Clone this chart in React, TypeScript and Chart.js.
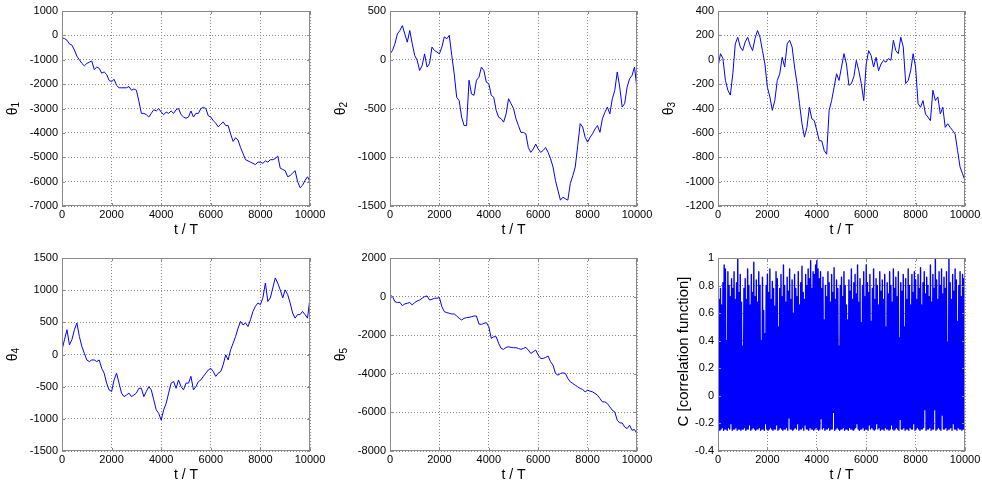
import React, { useEffect, useRef } from "react";
import { Chart, registerables } from "chart.js";

Chart.register(...registerables);

// ---------------- data ----------------
const T_STEP = 100; // sample spacing of the theta series (t / T)
const X_TICKS_STEP = 2000;

const theta1 = [
  -100, -130, -200, -350, -400, -600, -850, -1000, -1150, -1250,
  -1150, -1100, -1050, -1400, -1300, -1350, -1550, -1500, -1600, -1850,
  -1900, -1800, -2050, -2150, -2150, -2150, -2150, -2100, -2250, -2200,
  -2250, -2700, -3200, -3200, -3250, -3350, -3200, -3050, -3100, -3000,
  -3150, -3250, -3150, -3200, -3100, -3200, -3050, -3000, -3250, -3350,
  -3400, -3350, -3100, -3350, -3200, -3200, -3000, -2950, -3000, -3300,
  -3350, -3500, -3600, -3750, -3650, -3550, -3700, -3700, -4050, -4350,
  -4200, -4300, -4600, -4850, -5100, -5150, -5200, -5250, -5300, -5200,
  -5200, -5250, -5150, -5200, -5100, -5100, -5050, -4950, -5450, -5500,
  -5550, -5800, -5750, -5650, -5550, -6000, -6250, -6150, -5950, -5800,
  -6000,
];

const theta2 = [
  60, 95, 165, 265, 300, 350, 265, 180, 300, 165,
  45, -5, -110, -60, 60, -75, -40, 130, 95, 80,
  60, 130, 235, 215, 250, 45, -145, -385, -420, -590,
  -675, -675, -210, -350, -365, -210, -180, -75, -110, -230,
  -245, -365, -385, -520, -590, -605, -640, -555, -400, -450,
  -500, -605, -675, -745, -745, -760, -900, -950, -915, -865,
  -915, -950, -930, -900, -950, -1015, -1100, -1240, -1340, -1440,
  -1410, -1425, -1440, -1270, -1190, -1100, -880, -655, -690, -795,
  -845, -795, -760, -710, -675, -745, -605, -540, -485, -555,
  -400, -315, -125, -280, -485, -450, -280, -195, -160, -75,
  -300,
];

const theta3 = [
  -60, 50, 10, -170, -250, -290, -115, 130, 185, 105,
  75, 145, 185, 120, 75, 175, 240, 185, 75, -35,
  -225, -305, -415, -335, -170, -115, 20, -60, 130, 160,
  105, -60, -195, -360, -525, -635, -555, -390, -485, -500,
  -580, -665, -665, -745, -775, -415, -335, -225, -115, -170,
  -60, 50, -35, -210, -195, -140, -5, -90, -195, -335,
  -35, 75, 35, -60, 20, -90, -35, -5, -20, 10,
  -5, 160, 75, 50, 185, 105, -195, -170, -90, 50,
  -60, -360, -390, -335, -445, -470, -500, -250, -335, -305,
  -445, -390, -555, -525, -555, -580, -610, -745, -880, -935,
  -990,
];

const theta4 = [
  70, 230, 385, 150, 230, 385, 490, 280, 125, 20,
  -85, -110, -85, -85, -110, -85, -215, -290, -445, -550,
  -575, -395, -290, -445, -600, -655, -630, -600, -655, -630,
  -600, -525, -525, -655, -575, -500, -550, -705, -860, -915,
  -1020, -860, -760, -600, -445, -420, -525, -395, -500, -550,
  -445, -445, -340, -550, -500, -420, -395, -340, -290, -240,
  -215, -265, -340, -290, -265, -160, -5, -85, 75, 175,
  280, 410, 515, 460, 490, 435, 540, 670, 750, 800,
  775, 880, 1110, 825, 880, 1035, 1190, 1110, 1005, 880,
  1005, 930, 800, 645, 565, 620, 620, 670, 620, 565,
  880,
];

const theta5 = [
  85, 0, -260, -310, -295, -470, -380, -345, -310, -430,
  -310, -225, -175, -85, 0, 35, -175, -140, -85, -85,
  -50, -520, -780, -830, -865, -900, -900, -1005, -1125, -1210,
  -1125, -1090, -1075, -1040, -1005, -1005, -1420, -1440, -1385, -1350,
  -1560, -2165, -2080, -2080, -2425, -2685, -2735, -2630, -2600, -2630,
  -2650, -2650, -2685, -2735, -2685, -2630, -2770, -2945, -2855, -2770,
  -3030, -3205, -3205, -3150, -3080, -3375, -3550, -3985, -4070, -3985,
  -3950, -3985, -4240, -4415, -4500, -4590, -4675, -4760, -4815, -4935,
  -4850, -4900, -4935, -5020, -5110, -5280, -5455, -5455, -5540, -5715,
  -5890, -5975, -6405, -6545, -6545, -6755, -6840, -6665, -6925, -6890,
  -7100,
];

// correlation function: local maxima (every 50 t) and local minima (between them)
const CORR_STEP = 50;
const corrHighs = [
  0.88, 0.70, 0.78, 0.66, 0.82, 0.95, 0.92, 0.40, 0.90, 0.80, 0.72, 0.85, 0.78, 0.90, 0.70, 0.82, 1.00, 0.75, 0.88, 0.68,
  0.36, 0.78, 0.85, 0.70, 0.92, 0.80, 0.66, 0.88, 0.75, 0.97, 0.72, 0.84, 0.68, 0.90, 0.80, 0.40, 0.86, 0.62, 0.45, 0.80,
  0.88, 0.75, 0.92, 0.70, 0.83, 0.78, 0.65, 0.90, 0.85, 0.50, 0.78, 0.88, 0.72, 0.95, 0.80, 0.68, 0.86, 0.76, 0.92, 0.70,
  0.84, 0.60, 0.88, 0.78, 0.72, 0.90, 0.66, 0.82, 0.94, 0.75, 0.70, 0.88, 0.80, 0.92, 0.85, 0.98, 0.78, 0.90, 0.88, 0.95,
  0.98, 0.92, 0.85, 0.90, 0.78, 0.86, 0.55, 0.80, 0.72, 0.90, 0.82, 0.68, 0.88, 0.75, 0.93, 0.70, 0.84, 0.78, 0.36, 0.80,
  0.86, 0.72, 0.90, 0.80, 0.66, 0.55, 0.84, 0.76, 0.92, 0.70, 0.82, 0.88, 0.74, 0.95, 0.68, 0.85, 0.53, 0.80, 0.90, 0.72,
  0.95, 0.82, 0.75, 0.88, 0.54, 0.78, 0.92, 0.70, 0.85, 0.80, 0.66, 0.90, 0.76, 0.84, 0.70, 0.88, 0.50, 0.82, 0.74, 0.90,
  0.80, 0.68, 0.92, 0.78, 0.86, 0.72, 0.90, 0.42, 0.82, 0.76, 0.88, 0.50, 0.85, 0.70, 0.92, 0.80, 0.66, 0.88, 0.75, 0.90,
  0.84, 0.70, 0.88, 0.78, 0.93, 0.66, 0.82, 0.90, 0.74, 0.86, 0.80, 0.72, 0.95, 0.68, 0.88, 0.78, 1.00, 0.84, 0.70, 0.90,
  0.80, 0.92, 0.74, 0.86, 0.78, 0.90, 0.39, 1.00, 0.82, 0.70, 0.88, 0.76, 0.92, 0.84, 0.54, 0.80, 0.90, 0.72, 0.88, 0.85,
  0.88,
];
const corrLows = [
  -0.24, -0.25, -0.24, -0.23, -0.25, -0.24, -0.24, -0.25, -0.23, -0.24, -0.2, -0.25, -0.24, -0.24, -0.23, -0.25, -0.24, -0.24, -0.25, -0.24,
  -0.24, -0.23, -0.25, -0.24, -0.24, -0.21, -0.25, -0.24, -0.23, -0.24, -0.25, -0.24, -0.24, -0.23, -0.25, -0.24, -0.24, -0.25, -0.2, -0.24,
  -0.25, -0.24, -0.23, -0.24, -0.25, -0.24, -0.24, -0.21, -0.25, -0.24, -0.23, -0.24, -0.25, -0.24, -0.24, -0.23, -0.25, -0.16, -0.24, -0.24,
  -0.25, -0.24, -0.23, -0.24, -0.2, -0.25, -0.24, -0.24, -0.23, -0.25, -0.21, -0.24, -0.24, -0.25, -0.23, -0.24, -0.24, -0.25, -0.24, -0.23,
  -0.24, -0.25, -0.24, -0.165, -0.24, -0.23, -0.25, -0.24, -0.24, -0.23, -0.25, -0.24, -0.24, -0.12, -0.25, -0.24, -0.23, -0.24, -0.25, -0.24,
  -0.24, -0.23, -0.25, -0.24, -0.24, -0.25, -0.23, -0.24, -0.24, -0.25, -0.24, -0.23, -0.2, -0.24, -0.25, -0.24, -0.24, -0.23, -0.25, -0.24,
  -0.24, -0.25, -0.21, -0.24, -0.23, -0.24, -0.25, -0.24, -0.2, -0.24, -0.23, -0.25, -0.24, -0.24, -0.25, -0.23, -0.24, -0.24, -0.25, -0.24,
  -0.21, -0.24, -0.25, -0.24, -0.23, -0.24, -0.25, -0.17, -0.24, -0.24, -0.23, -0.25, -0.24, -0.24, -0.25, -0.23, -0.24, -0.24, -0.2, -0.25,
  -0.24, -0.23, -0.24, -0.25, -0.24, -0.24, -0.23, -0.1, -0.25, -0.24, -0.24, -0.23, -0.25, -0.24, -0.24, -0.1, -0.25, -0.24, -0.23, -0.24,
  -0.25, -0.14, -0.24, -0.24, -0.23, -0.25, -0.24, -0.24, -0.23, -0.25, -0.2, -0.24, -0.24, -0.25, -0.23, -0.24, -0.24, -0.25, -0.24, -0.24,
];

// ---------------- helpers ----------------
type Pt = { x: number; y: number };

function walkPoints(values: number[]): Pt[] {
  return values.map((v, i) => ({ x: i * T_STEP, y: v }));
}

function corrPoints(): Pt[] {
  const pts: Pt[] = [];
  for (let i = 0; i < corrHighs.length; i++) {
    pts.push({ x: i * CORR_STEP, y: corrHighs[i] });
    if (i < corrLows.length) pts.push({ x: i * CORR_STEP + CORR_STEP / 2, y: corrLows[i] });
  }
  return pts;
}

const FONT = "'Liberation Sans', Arial, Helvetica, sans-serif";
const GRID = "#8a8a8a";
const FRAME = "#8a8a8a";
const AX_L = 62;
const AX_T = 11;
const AX_R = 15;
const AX_B = 35;

type PanelCfg = {
  left: number; right: number; top: number; bottom: number;
  label: string; sub: string; labelOff: number; labelSize: number; labelShift: number;
  points: Pt[]; lineWidth: number; dense: boolean; yMin: number; yMax: number; yStep: number;
};

const PANELS: PanelCfg[] = [
  { left: 62, right: 310, top: 11, bottom: 206, label: "θ", sub: "1", labelOff: 45, labelSize: 14, labelShift: 0, points: walkPoints(theta1), lineWidth: 1, dense: false, yMin: -7000, yMax: 1000, yStep: 1000 },
  { left: 390, right: 637, top: 11, bottom: 206, label: "θ", sub: "2", labelOff: 45, labelSize: 14, labelShift: 0, points: walkPoints(theta2), lineWidth: 1, dense: false, yMin: -1500, yMax: 500, yStep: 500 },
  { left: 718, right: 965, top: 11, bottom: 206, label: "θ", sub: "3", labelOff: 45, labelSize: 14, labelShift: 0, points: walkPoints(theta3), lineWidth: 1, dense: false, yMin: -1200, yMax: 400, yStep: 200 },
  { left: 62, right: 310, top: 258, bottom: 451, label: "θ", sub: "4", labelOff: 45, labelSize: 14, labelShift: 0, points: walkPoints(theta4), lineWidth: 1, dense: false, yMin: -1500, yMax: 1500, yStep: 500 },
  { left: 390, right: 637, top: 258, bottom: 451, label: "θ", sub: "5", labelOff: 45, labelSize: 14, labelShift: 0, points: walkPoints(theta5), lineWidth: 1, dense: false, yMin: -8000, yMax: 2000, yStep: 2000 },
  { left: 718, right: 965, top: 258, bottom: 451, label: "C [correlation function]", sub: "", labelOff: 30, labelSize: 15, labelShift: 3, points: corrPoints(), lineWidth: 1.4, dense: true, yMin: -0.4, yMax: 1, yStep: 0.2 },
];

const fmt = (v: any) => String(Math.round(Number(v) * 1000) / 1000);

const framePlugin = {
  id: "matlabFrame",
  afterDraw(chart: any, _args: any, opts: any) {
    const { ctx, chartArea: a } = chart;
    const xs = chart.scales.x;
    const ys = chart.scales.y;
    ctx.save();
    ctx.strokeStyle = FRAME;
    ctx.lineWidth = 1;
    ctx.setLineDash([]);
    ctx.strokeRect(a.left + 0.5, a.top + 0.5, a.right - a.left - 1, a.bottom - a.top - 1);
    ctx.beginPath();
    const tl = 3;
    xs.ticks.forEach((t: any) => {
      const px = Math.round(xs.getPixelForValue(t.value)) + 0.5;
      ctx.moveTo(px, a.bottom);
      ctx.lineTo(px, a.bottom - tl);
      ctx.moveTo(px, a.top);
      ctx.lineTo(px, a.top + tl);
    });
    ys.ticks.forEach((t: any) => {
      const py = Math.round(ys.getPixelForValue(t.value)) + 0.5;
      ctx.moveTo(a.left, py);
      ctx.lineTo(a.left + tl, py);
      ctx.moveTo(a.right, py);
      ctx.lineTo(a.right - tl, py);
    });
    ctx.stroke();

    // x title
    ctx.fillStyle = "#000";
    ctx.font = `14px ${FONT}`;
    ctx.textAlign = "center";
    ctx.textBaseline = "alphabetic";
    ctx.fillText("t / T", (a.left + a.right) / 2, a.bottom + 28);

    // y title (rotated, with optional subscript)
    const cx = a.left - opts.labelOff;
    const cy = (a.top + a.bottom) / 2 - opts.labelShift;
    ctx.translate(cx, cy);
    ctx.rotate(-Math.PI / 2);
    ctx.textAlign = "left";
    ctx.font = `${opts.labelSize}px ${FONT}`;
    const wMain = ctx.measureText(opts.label).width;
    ctx.font = `10px ${FONT}`;
    const wSub = opts.sub ? ctx.measureText(opts.sub).width : 0;
    const start = -(wMain + wSub) / 2;
    ctx.font = `${opts.labelSize}px ${FONT}`;
    ctx.fillText(opts.label, start, 0);
    if (opts.sub) {
      ctx.font = `10px ${FONT}`;
      ctx.fillText(opts.sub, start + wMain, 2);
    }
    ctx.restore();
  },
};

function Panel({ cfg }: { cfg: PanelCfg }) {
  const ref = useRef<HTMLCanvasElement>(null);
  const w = cfg.right - cfg.left + AX_L + AX_R;
  const h = cfg.bottom - cfg.top + AX_T + AX_B;

  useEffect(() => {
    if (!ref.current) return;
    const tickFont = { family: FONT, size: 11 };
    const chart = new Chart(ref.current, {
      type: "line",
      data: {
        datasets: [
          {
            data: cfg.points as any,
            borderColor: "#0000ff",
            borderWidth: cfg.lineWidth,
            // a solid "dash" pattern makes Chart.js draw every vertex (no per-pixel min/max path)
            borderDash: cfg.dense ? [100000, 0] : [],
            borderJoinStyle: "round",
            pointRadius: 0,
            tension: 0,
            fill: false,
          },
        ],
      },
      options: {
        animation: false,
        responsive: false,
        devicePixelRatio: 1,
        events: [],
        layout: { padding: { top: AX_T, right: AX_R, left: 0, bottom: 0 } },
        plugins: {
          legend: { display: false },
          tooltip: { enabled: false },
          matlabFrame: { label: cfg.label, sub: cfg.sub, labelOff: cfg.labelOff, labelSize: cfg.labelSize, labelShift: cfg.labelShift },
        } as any,
        scales: {
          x: {
            type: "linear",
            min: 0,
            max: 10000,
            afterFit: (s: any) => {
              s.height = AX_B;
              s.paddingLeft = 0;
              s.paddingRight = 0;
            },
            ticks: {
              stepSize: X_TICKS_STEP,
              autoSkip: false,
              maxRotation: 0,
              minRotation: 0,
              padding: 2,
              font: tickFont,
              color: "#000",
              callback: fmt,
            },
            grid: { color: GRID, lineWidth: 1, drawTicks: false },
            border: { display: false, dash: [1, 2] },
          },
          y: {
            type: "linear",
            min: cfg.yMin,
            max: cfg.yMax,
            afterFit: (s: any) => {
              s.width = AX_L;
              s.paddingTop = 0;
              s.paddingBottom = 0;
            },
            ticks: {
              stepSize: cfg.yStep,
              autoSkip: false,
              padding: 4,
              font: tickFont,
              color: "#000",
              callback: fmt,
            },
            grid: { color: GRID, lineWidth: 1, drawTicks: false },
            border: { display: false, dash: [1, 2] },
          },
        },
      } as any,
      plugins: [framePlugin],
    });
    return () => chart.destroy();
  }, [cfg]);

  return (
    <canvas
      ref={ref}
      width={w}
      height={h}
      style={{ position: "absolute", left: cfg.left - AX_L, top: cfg.top - AX_T, width: w, height: h }}
    />
  );
}

export default function App() {
  return (
    <div
      style={{
        position: "fixed",
        left: 0,
        top: 0,
        width: 982,
        height: 484,
        background: "#fff",
        overflow: "hidden",
      }}
    >
      {PANELS.map((p, i) => (
        <Panel key={i} cfg={p} />
      ))}
    </div>
  );
}
